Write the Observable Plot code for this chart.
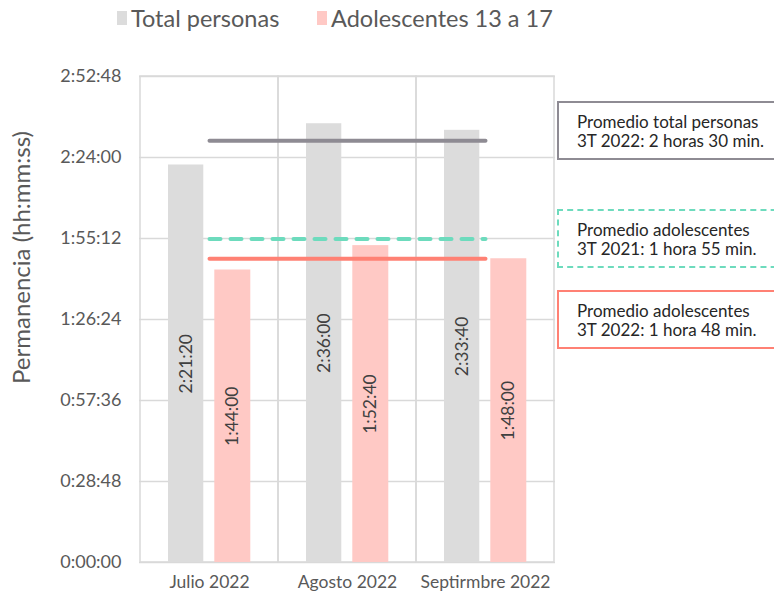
<!DOCTYPE html>
<html><head><meta charset="utf-8">
<script src="https://cdn.jsdelivr.net/npm/d3@7"></script>
<script src="https://cdn.jsdelivr.net/npm/@observablehq/plot@0.6"></script>
<style>
body{margin:0;background:#fff;font-family:Lato,"Open Sans",sans-serif;}
#wrap{position:relative;width:774px;height:593px;overflow:hidden;}
#chart{position:absolute;left:0;top:0;}
.leg{position:absolute;top:4px;font-size:23.5px;color:#595959;display:flex;align-items:center;white-space:nowrap;}
.sw{display:inline-block;width:10px;height:14px;margin-right:4px;}
.box{position:absolute;left:557px;width:240px;box-sizing:border-box;font-size:17px;line-height:19px;color:#262626;padding:9px 0 0 18px;white-space:nowrap;}
</style></head>
<body><div id="wrap"><div id="chart"></div></div>
<script>
const months = ["Julio 2022", "Agosto 2022", "Septirmbre 2022"];
const totalSecs = [8480, 9360, 9220];   // 2:21:20, 2:36:00, 2:33:40
const adolSecs = [6240, 6760, 6480];    // 1:44:00, 1:52:40, 1:48:00
const yTicks = [0, 1728, 3456, 5184, 6912, 8640, 10368];
const avgLines = [
  {name: "Promedio total personas 3T 2022", value: 9000},
  {name: "Promedio adolescentes 3T 2021", value: 6900},
  {name: "Promedio adolescentes 3T 2022", value: 6480}
];
const seriesNames = ["Total personas", "Adolescentes 13 a 17"];
const seriesColors = ["#dcdcdc", "#ffc9c5"];
const boxLines = [
  ["Promedio total personas", "3T 2022: 2 horas 30 min."],
  ["Promedio adolescentes", "3T 2021: 1 hora 55 min."],
  ["Promedio adolescentes", "3T 2022: 1 hora 48 min."]
];

const fmt = s => { const h = Math.floor(s/3600), m = Math.floor((s%3600)/60), sec = s%60;
  return `${h}:${String(m).padStart(2,"0")}:${String(sec).padStart(2,"0")}`; };

const totalData = months.map((m,i)=>({month:m, value: totalSecs[i]}));
const adolData = months.map((m,i)=>({month:m, value: adolSecs[i]}));
const ends = [months[0], months[months.length-1]];

const plot = Plot.plot({
  width: 774, height: 593,
  marginTop: 76, marginBottom: 31, marginLeft: 139, marginRight: 219,
  style: {fontFamily: "Lato, sans-serif", background: "white"},
  x: {domain: months, padding: 0},
  y: {domain: [0, 10368]},
  marks: [
    Plot.ruleY(yTicks, {stroke: "#d9d9d9", strokeWidth: 1.5}),
    Plot.barY(months, {x: d=>d, y1: 0, y2: 10368, fill: "none", stroke: "#d9d9d9", strokeWidth: 1.5}),
    Plot.barY(totalData, {x: "month", y: "value", fill: seriesColors[0], insetLeft: 28, insetRight: 74.7}),
    Plot.barY(adolData, {x: "month", y: "value", fill: seriesColors[1], insetLeft: 74.3, insetRight: 27.7}),
    Plot.text(totalData, {x: "month", y: d=>d.value/2, text: d=>fmt(d.value), rotate: -90, dx: -23.3, fontSize: 17.5, fill: "#404040"}),
    Plot.text(adolData, {x: "month", y: d=>d.value/2, text: d=>fmt(d.value), rotate: -90, dx: 23.3, fontSize: 17.5, fill: "#404040"}),
    Plot.line(ends, {x: d=>d, y: ()=>avgLines[0].value, stroke: "#8e8b93", strokeWidth: 4, strokeLinecap: "round"}),
    Plot.line(ends, {x: d=>d, y: ()=>avgLines[1].value, stroke: "#6ddbbd", strokeWidth: 4, strokeLinecap: "round", strokeDasharray: "11,10"}),
    Plot.line(ends, {x: d=>d, y: ()=>avgLines[2].value, stroke: "#ff8174", strokeWidth: 4, strokeLinecap: "round"}),
    Plot.axisY({ticks: yTicks, tickFormat: fmt, tickSize: 0, tickPadding: 18, fontSize: 18, color: "#595959", label: null}),
    Plot.axisX({tickSize: 0, tickPadding: 13, fontSize: 17.5, color: "#595959", label: null}),
    Plot.text(["Permanencia (hh:mm:ss)"], {frameAnchor: "left", textAnchor: "middle", text: d=>d, rotate: -90, dx: -117, dy: -62, fontSize: 24, fill: "#595959"})
  ]
});
const wrap = document.getElementById("wrap");
document.getElementById("chart").appendChild(plot);

// legend
const legX = [117, 317];
seriesNames.forEach((n,i)=>{
  const d = document.createElement("div");
  d.className = "leg"; d.style.left = legX[i] + "px";
  d.innerHTML = `<span class="sw" style="background:${seriesColors[i]}"></span>${n}`;
  wrap.appendChild(d);
});

// annotation boxes
const boxTops = [101, 209, 290];
const boxBorders = ["2px solid #8e8b93", "2px dashed #6ddbbd", "2px solid #ff8174"];
boxLines.forEach((ls,i)=>{
  const d = document.createElement("div");
  d.className = "box"; d.style.top = boxTops[i] + "px"; d.style.height = "59px";
  d.style.border = boxBorders[i];
  d.innerHTML = ls.join("<br>");
  wrap.appendChild(d);
});
</script></body></html>
